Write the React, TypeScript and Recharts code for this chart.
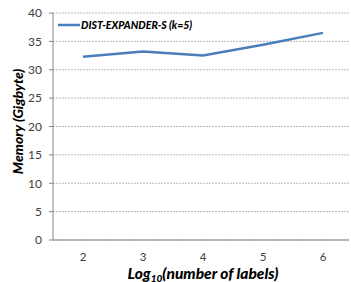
import React from 'react';
import { LineChart, Line, XAxis, YAxis, CartesianGrid, Label } from 'recharts';

const labels = ['2', '3', '4', '5', '6'];
const memory = [32.3, 33.2, 32.5, 34.4, 36.5];
const yTicks = [0, 5, 10, 15, 20, 25, 30, 35, 40];

const seriesName = 'DIST-EXPANDER-S (k=5)';
const LINE_COLOR = '#4a7ebb';
const FONT = 'Lato, "Open Sans", sans-serif';

const data = labels.map((name, i) => ({ name, value: memory[i] }));

function XTitle(props: any) {
    const { viewBox } = props;
    const cx = viewBox.x + viewBox.width / 2 + 2;
    return (
        <text x={cx} y={viewBox.y + 38.5} textAnchor="middle" fontFamily={FONT} fontSize={15.5} fontWeight={900} fontStyle="italic" fill="#000">
            Log<tspan fontSize={10} dy={3}>10</tspan><tspan dy={-3}>(number of labels)</tspan>
        </text>
    );
}

function YTitle(props: any) {
    const { viewBox } = props;
    const cy = viewBox.y + viewBox.height / 2 - 5;
    return (
        <text x={0} y={0} transform={`translate(23, ${cy}) rotate(-90)`} textAnchor="middle" fontFamily={FONT} fontSize={14} fontWeight={900} fontStyle="italic" fill="#000">
            Memory (Gigbyte)
        </text>
    );
}

export default function App() {
    return (
        <div style={{ position: 'absolute', left: 0, top: 0, width: 351, height: 282, background: '#fff' }}>
            <LineChart width={351} height={282} data={data} margin={{ top: 13, right: 2, bottom: 0, left: 0 }}>
                <CartesianGrid vertical={false} stroke="#b8b8b8" strokeDasharray="2 1" />
                <XAxis
                    dataKey="name"
                    padding={{ left: 30, right: 26 }}
                    tickLine={false}
                    axisLine={{ stroke: '#868686' }}
                    tick={{ fill: '#404040', fontSize: 11.5, fontFamily: FONT }}
                    tickMargin={7}
                    height={42}
                >
                    <Label content={<XTitle />} />
                </XAxis>
                <YAxis
                    domain={[0, 40]}
                    ticks={yTicks}
                    interval={0}
                    width={53}
                    tickSize={4}
                    tickLine={{ stroke: '#868686' }}
                    axisLine={{ stroke: '#868686' }}
                    tick={{ fill: '#404040', fontSize: 12, fontFamily: FONT }}
                    tickMargin={7}
                >
                    <Label content={<YTitle />} />
                </YAxis>
                <Line
                    type="linear"
                    dataKey="value"
                    name={seriesName}
                    stroke={LINE_COLOR}
                    strokeWidth={2.5}
                    dot={false}
                    isAnimationActive={false}
                />
            </LineChart>
            <div style={{ position: 'absolute', left: 58, top: 19, display: 'flex', alignItems: 'center', fontFamily: FONT, fontSize: 10.5, fontWeight: 900, fontStyle: 'italic', color: '#000', whiteSpace: 'nowrap' }}>
                <svg width={23} height={6}>
                    <line x1={0} y1={3} x2={22} y2={3} stroke={LINE_COLOR} strokeWidth={2.5} />
                </svg>
                <span>{seriesName}</span>
            </div>
        </div>
    );
}
